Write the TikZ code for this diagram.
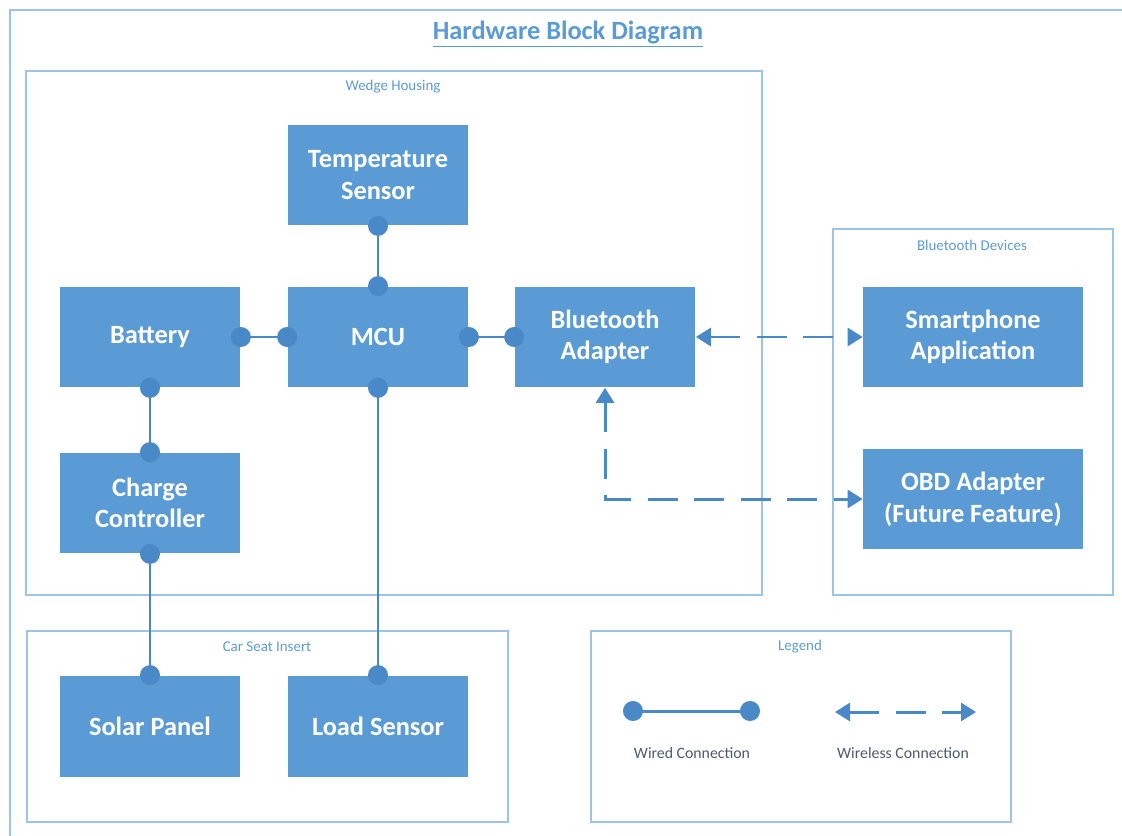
\documentclass[tikz,border=0pt]{standalone}
\usepackage{fontspec}
\setmainfont{Carlito}
\usetikzlibrary{arrows.meta}
\definecolor{boxblue}{HTML}{5B9BD5}
\definecolor{wireblue}{HTML}{4A89C8}
\definecolor{frameblue}{HTML}{9DC3E6}
\definecolor{legendgray}{HTML}{4D5A6A}

\begin{document}
\begin{tikzpicture}[x=0.02cm, y=-0.02cm,
                block/.style={rectangle,fill=boxblue,text=white,align=center,inner sep=0pt,
                  font=\fontsize{15}{18}\selectfont\bfseries,minimum width=3.62cm,minimum height=2.02cm},
                wide block/.style={block,minimum width=4.4cm},
                group/.style={draw=frameblue,line width=1.1pt},
                group label/.style={text=boxblue,font=\fontsize{8.5}{10}\selectfont},
                legend text/.style={text=legendgray,font=\fontsize{9}{11}\selectfont},
                wire/.style={draw=wireblue,line width=1.7pt,
                  {Circle[length=0.4cm]}-{Circle[length=0.4cm]},shorten <=-0.2cm,shorten >=-0.2cm},
                wireless/.style={draw=wireblue,line width=1.7pt,dash pattern=on 0.6cm off 0.33cm,
                  {Triangle[length=0.3cm,width=0.36cm]}-{Triangle[length=0.3cm,width=0.36cm]}},
                ]
                \clip (0,0) rectangle (1122,835);
                \draw[group] (10,10) rectangle (1200,900);
                \node[text=boxblue,font=\fontsize{15}{18}\selectfont\bfseries] (title) at (568,34) {\underline{Hardware Block Diagram}};

                % groups
                \draw[group] (26,71) rectangle (762,595);
                \draw[group] (833,229) rectangle (1113,595);
                \draw[group] (27,631) rectangle (508,822);
                \draw[group] (591,631) rectangle (1011,822);
                \node[group label] (wedge) at (393,87) {Wedge Housing};
                \node[group label] (devices) at (972,245) {Bluetooth Devices};
                \node[group label] (seat) at (267,647) {Car Seat Insert};
                \node[group label] (legend) at (800,647) {Legend};

                % blocks
                \node[block] (temp) at (378,175) {Temperature\\Sensor};
                \node[block] (mcu) at (378,337) {MCU};
                \node[block] (battery) at (150,337) {Battery};
                \node[block] (bt) at (605,337) {Bluetooth\\Adapter};
                \node[block] (charge) at (150,503) {Charge\\Controller};
                \node[block] (solar) at (150,726) {Solar Panel};
                \node[block] (load) at (378,726) {Load Sensor};
                \node[wide block] (phone) at (973,337) {Smartphone\\Application};
                \node[wide block] (obd) at (973,499) {OBD Adapter\\(Future Feature)};

                \draw[wire] (temp.south) -- (mcu.north);
                \draw[wire] (battery.east) -- (mcu.west);
                \draw[wire] (mcu.east) -- (bt.west);
                \draw[wire] (battery.south) -- (charge.north);
                \draw[wire] (charge.south) -- (solar.north);
                \draw[wire] (mcu.south) -- (load.north);

                \draw[wireless] (bt.east) -- (phone.west);
                \draw[wireless] (bt.south) |- (obd.west);

                % legend
                \coordinate (wired a) at (633,711);
                \coordinate (wired b) at (750,711);
                \coordinate (wireless a) at (835,712);
                \coordinate (wireless b) at (976,712);
                \draw[wire] (wired a) -- (wired b);
                \draw[wireless] (wireless a) -- (wireless b);
                \node[legend text] (wired) at (692,753) {Wired Connection};
                \node[legend text] (wirelesstext) at (903,753) {Wireless Connection};
            \end{tikzpicture}
\end{document}
